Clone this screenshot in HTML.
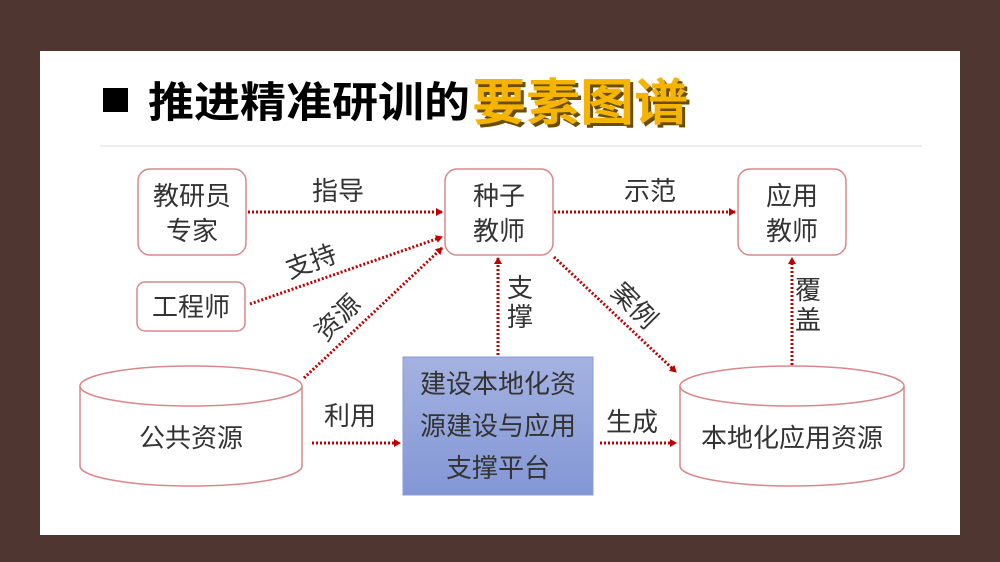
<!DOCTYPE html>
<html><head><meta charset="utf-8"><style>
html,body{margin:0;padding:0;background:#4f3630;}
svg{display:block}
text{font-family:"Liberation Sans","Noto Sans CJK SC",sans-serif;fill:#333;}
</style></head><body>
<svg width="1000" height="562" viewBox="0 0 1000 562" xmlns="http://www.w3.org/2000/svg">
<defs>
<marker id="a" markerWidth="8" markerHeight="8" refX="6" refY="4" orient="auto" markerUnits="userSpaceOnUse">
<path d="M0,0 L7,4 L0,8 Z" fill="#c00000"/></marker>
<linearGradient id="bg" x1="0" y1="0" x2="0" y2="1"><stop offset="0" stop-color="#a4b2e0"/><stop offset="1" stop-color="#8397d6"/></linearGradient>
</defs>
<rect x="0" y="0" width="1000" height="562" fill="#4f3630"/>
<rect x="40" y="51" width="920" height="484" fill="#fff"/>
<rect x="103" y="88" width="25" height="24" fill="#000"/>
<text x="148" y="117" font-size="42" font-weight="bold" textLength="322" lengthAdjust="spacingAndGlyphs" style="fill:#000">推进精准研训的</text>
<text x="475" y="123" font-size="50" font-weight="bold" textLength="216" lengthAdjust="spacingAndGlyphs" style="fill:#6a4d00">要素图谱</text>
<text x="472" y="120" font-size="50" font-weight="bold" textLength="216" lengthAdjust="spacingAndGlyphs" style="fill:#f5b400">要素图谱</text>
<line x1="100" y1="146" x2="922" y2="146" stroke="#eee" stroke-width="2"/>

<g fill="#fff" stroke="#d9878b" stroke-width="1.5">
<rect x="138" y="169" width="108" height="86" rx="12"/>
<rect x="445" y="169" width="108" height="86" rx="12"/>
<rect x="738" y="169" width="108" height="86" rx="12"/>
<rect x="137" y="282" width="108" height="49" rx="8"/>
<path d="M80,386 L80,466 A111,20 0 0 0 302,466 L302,386"/>
<ellipse cx="191" cy="386" rx="111" ry="20"/>
<path d="M680,386 L680,466 A112,20 0 0 0 904,466 L904,386"/>
<ellipse cx="792" cy="386" rx="112" ry="20"/>
</g>
<rect x="403" y="357" width="190" height="138" fill="url(#bg)" stroke="#8a9bd4"/>

<g stroke="#c00000" stroke-width="3" stroke-dasharray="2,2" fill="none" marker-end="url(#a)">
<line x1="248" y1="212" x2="442" y2="212"/>
<line x1="554" y1="212" x2="735" y2="212"/>
<line x1="250" y1="304" x2="442" y2="237"/>
<line x1="304" y1="378" x2="442" y2="248"/>
<line x1="498" y1="355" x2="498" y2="258"/>
<line x1="554" y1="257" x2="676" y2="372"/>
<line x1="792" y1="365" x2="792" y2="258"/>
<line x1="312" y1="443" x2="400" y2="443"/>
<line x1="600" y1="443" x2="676" y2="443"/>
</g>

<g font-size="26" text-anchor="middle">
<text x="192" y="205">教研员</text><text x="192" y="240">专家</text>
<text x="499" y="205">种子</text><text x="499" y="240">教师</text>
<text x="792" y="205">应用</text><text x="792" y="240">教师</text>
<text x="191" y="316">工程师</text>
<text x="191" y="447">公共资源</text>
<text x="792" y="447">本地化应用资源</text>
<text x="498" y="393">建设本地化资</text>
<text x="498" y="435">源建设与应用</text>
<text x="498" y="477">支撑平台</text>
<text x="338" y="200">指导</text>
<text x="650" y="200">示范</text>
<text x="350" y="425">利用</text>
<text x="632" y="431">生成</text>
<text x="520" y="297">支</text><text x="520" y="326">撑</text>
<text x="808" y="299">覆</text><text x="808" y="329">盖</text>
<text transform="translate(314,270) rotate(-20)">支持</text>
<text transform="translate(344,324) rotate(-45)">资源</text>
<text transform="translate(628,312) rotate(45)">案例</text>
</g>
</svg>
</body></html>
